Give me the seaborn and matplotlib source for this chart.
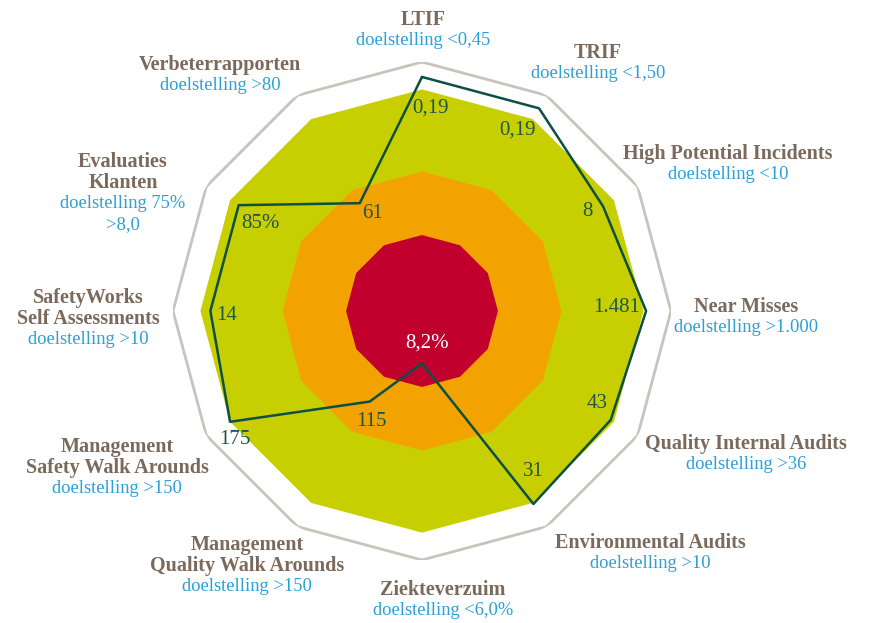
import numpy as np
import pandas as pd
import seaborn as sns
import matplotlib.pyplot as plt

# KPI's clockwise from the top
categories = ['LTIF', 'TRIF', 'High Potential Incidents', 'Near Misses',
              'Quality Internal Audits', 'Environmental Audits', 'Ziekteverzuim',
              'Management\nQuality Walk Arounds', 'Management\nSafety Walk Arounds',
              'SafetyWorks\nSelf Assessments', 'Evaluaties\nKlanten', 'Verbeterrapporten']
targets = ['doelstelling <0,45', 'doelstelling <1,50', 'doelstelling <10',
           'doelstelling >1.000', 'doelstelling >36', 'doelstelling >10',
           'doelstelling <6,0%', 'doelstelling >150', 'doelstelling >150',
           'doelstelling >10', 'doelstelling 75%\n>8,0', 'doelstelling >80']
value_labels = ['0,19', '0,19', '8', '1.481', '43', '31', '8,2%', '115', '175', '14', '85%', '61']
scores = [94, 94, 84, 90, 87.5, 89.5, 21, 42, 89, 85, 85, 50]

# score bands (red / orange / green) and outer ring
zones = [100, 89, 56, 30.5]
zone_colors = ['white', '#c8cf00', '#f3a300', '#c1002e']

W, H = 870, 623
cx, cy, R = 422, 311, 249

brown = '#7b6a5b'
blue = '#2a9fd9'
teal = '#0c4f45'

sns.set_theme(style='white')
plt.rcParams['font.family'] = ['Liberation Serif', 'DejaVu Serif']

fig = plt.figure(figsize=(W / 100, H / 100), dpi=100)
ax = fig.add_axes([(cx - R) / W, (H - cy - R) / H, 2 * R / W, 2 * R / H], projection='polar')
ax.set_theta_zero_location('N')
ax.set_theta_direction(-1)

n = len(categories)
theta = np.arange(n) * 2 * np.pi / n
theta_c = np.append(theta, 2 * np.pi)

for r, c in zip(zones, zone_colors):
    ax.fill(theta_c, [r] * (n + 1), color=c, lw=0, zorder=1)
ax.plot(theta_c, [zones[0]] * (n + 1), color='#c9c3bc', lw=2, zorder=2)

df = pd.DataFrame({'theta': theta_c, 'score': scores + scores[:1]})
sns.lineplot(data=df, x='theta', y='score', sort=False, estimator=None, ax=ax,
             color=teal, lw=1.8, zorder=3)

ax.set_ylim(0, 100)
ax.set_xticks([])
ax.set_yticks([])
ax.grid(False)
ax.spines['polar'].set_visible(False)
ax.set_xlabel('')
ax.set_ylabel('')
ax.patch.set_alpha(0)

def px(x, y):
    return x / W, 1 - y / H

# label anchor (centre x, centre y of first line)
label_pos = [(423, 20), (598, 53), (728, 154), (746, 307), (746, 444), (650, 543),
             (443, 590), (247, 545), (117, 447), (88, 298), (123, 162), (220, 65)]
line_h = 20.8
for cat, tgt, (x, y) in zip(categories, targets, label_pos):
    k = 0
    for line in cat.split('\n'):
        fig.text(*px(x, y + k * line_h), line, ha='center', va='center', fontsize=14.5,
                 fontweight='bold', color=brown)
        k += 1
    for line in tgt.split('\n'):
        fig.text(*px(x, y + k * line_h), line, ha='center', va='center', fontsize=13.3,
                 color=blue)
        k += 1

value_pos = [(431, 108), (518, 130), (587, 211), (617, 308), (597, 404), (533, 472),
             (427, 343), (371, 422), (235, 440), (227, 315), (260, 223), (373, 214)]
for i, (v, (x, y)) in enumerate(zip(value_labels, value_pos)):
    fig.text(*px(x, y), v, ha='center', va='center', fontsize=15,
             color='white' if i == 6 else '#1d5648')

fig.savefig('out.png', dpi=100)
